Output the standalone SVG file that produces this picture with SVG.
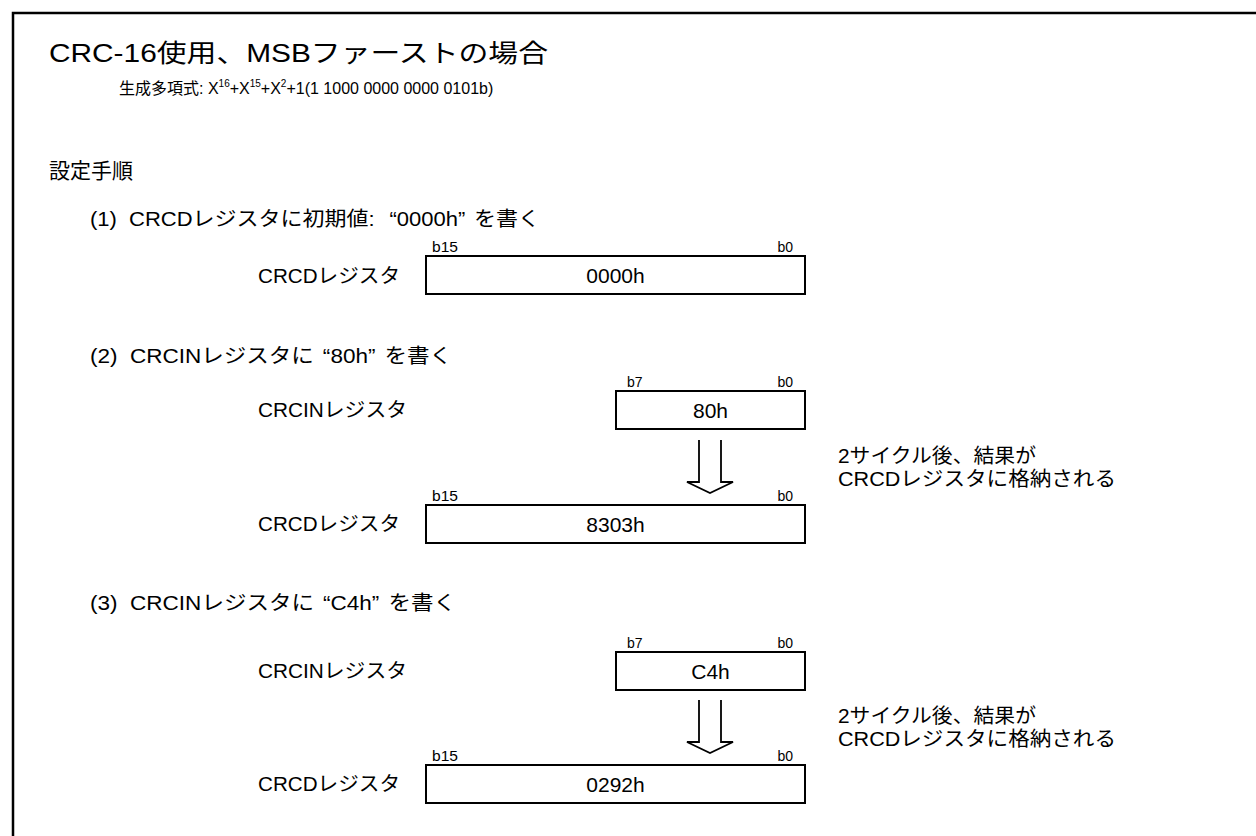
<svg xmlns="http://www.w3.org/2000/svg" width="1256" height="836" viewBox="0 0 1256 836">
<style>
text{font-family:"Liberation Sans","Noto Sans CJK JP",sans-serif;fill:#000}
.title{font-size:25px}
.sub{font-size:16px}
.h2{font-size:21px}
.step{font-size:20px}
.lbl{font-size:20px}
.note{font-size:20px}
.bit{font-size:14px}
.val{font-size:21px;text-anchor:middle}
.box{fill:#fff;stroke:#000;stroke-width:2}
.arrow{fill:#fff;stroke:#000;stroke-width:1.8;stroke-linejoin:miter}
.frame{fill:none;stroke:#000;stroke-width:2.5}
</style>
<rect width="1256" height="836" fill="#fff"/>
<path class="frame" d="M13,836 V13 H1256"/>
<g id="header">
<text class="title" x="49" y="62" textLength="499" lengthAdjust="spacingAndGlyphs">CRC-16使用、MSBファーストの場合</text>
<text class="sub" x="119" y="94">生成多項式: X<tspan font-size="10" dy="-7">16</tspan><tspan dy="7">+X</tspan><tspan font-size="10" dy="-7">15</tspan><tspan dy="7">+X</tspan><tspan font-size="10" dy="-7">2</tspan><tspan dy="7">+1(1 1000 0000 0000 0101b)</tspan></text>
<text class="h2" x="49" y="178">設定手順</text>
</g>
<g id="step1">
<text class="step" x="90" y="226" textLength="450" lengthAdjust="spacingAndGlyphs" xml:space="preserve">(1)  CRCDレジスタに初期値: <tspan dx="8">“</tspan>0000h”<tspan dx="8">を書く</tspan></text>
<text class="lbl" x="258" y="283" textLength="142" lengthAdjust="spacingAndGlyphs">CRCDレジスタ</text>
</g>
<g id="crcd0">
<text class="bit" x="432" y="252" textLength="26" lengthAdjust="spacingAndGlyphs">b15</text>
<text class="bit" x="793" y="252" text-anchor="end">b0</text>
<rect class="box" x="426" y="256" width="379" height="38"/>
<text class="val" x="615.5" y="283">0000h</text>
</g>
<g id="step2">
<text class="step" x="90" y="363" textLength="362" lengthAdjust="spacingAndGlyphs" xml:space="preserve">(2)  CRCINレジスタに<tspan dx="8">“</tspan>80h”<tspan dx="8">を書く</tspan></text>
<text class="lbl" x="258" y="417" textLength="149" lengthAdjust="spacingAndGlyphs">CRCINレジスタ</text>
<text class="lbl" x="258" y="531" textLength="142" lengthAdjust="spacingAndGlyphs">CRCDレジスタ</text>
<text class="note" x="838" y="463" textLength="198" lengthAdjust="spacingAndGlyphs">2サイクル後、結果が</text>
<text class="note" x="838" y="486" textLength="278" lengthAdjust="spacingAndGlyphs">CRCDレジスタに格納される</text>
</g>
<g id="crcin1">
<text class="bit" x="627" y="387">b7</text>
<text class="bit" x="793" y="387" text-anchor="end">b0</text>
<rect class="box" x="616" y="391" width="189" height="38"/>
<text class="val" x="710.5" y="418">80h</text>
</g>
<g id="crcd1">
<text class="bit" x="432" y="501" textLength="26" lengthAdjust="spacingAndGlyphs">b15</text>
<text class="bit" x="793" y="501" text-anchor="end">b0</text>
<rect class="box" x="426" y="505" width="379" height="38"/>
<text class="val" x="615.5" y="532">8303h</text>
</g>
<g id="step3">
<text class="step" x="90" y="610" textLength="366" lengthAdjust="spacingAndGlyphs" xml:space="preserve">(3)  CRCINレジスタに<tspan dx="8">“</tspan>C4h”<tspan dx="8">を書く</tspan></text>
<text class="lbl" x="258" y="678" textLength="149" lengthAdjust="spacingAndGlyphs">CRCINレジスタ</text>
<text class="lbl" x="258" y="791" textLength="142" lengthAdjust="spacingAndGlyphs">CRCDレジスタ</text>
<text class="note" x="838" y="723" textLength="198" lengthAdjust="spacingAndGlyphs">2サイクル後、結果が</text>
<text class="note" x="838" y="746" textLength="278" lengthAdjust="spacingAndGlyphs">CRCDレジスタに格納される</text>
</g>
<g id="crcin2">
<text class="bit" x="627" y="648">b7</text>
<text class="bit" x="793" y="648" text-anchor="end">b0</text>
<rect class="box" x="616" y="652" width="189" height="38"/>
<text class="val" x="710.5" y="679">C4h</text>
</g>
<g id="crcd2">
<text class="bit" x="432" y="761" textLength="26" lengthAdjust="spacingAndGlyphs">b15</text>
<text class="bit" x="793" y="761" text-anchor="end">b0</text>
<rect class="box" x="426" y="765" width="379" height="38"/>
<text class="val" x="615.5" y="792">0292h</text>
</g>
<g id="connectors">
<path class="arrow" d="M699,440 V482 H687 L710,493 L733,482 H721 V440"/>
<path class="arrow" d="M699,700 V742 H687 L710,753 L733,742 H721 V700"/>
</g>
</svg>
